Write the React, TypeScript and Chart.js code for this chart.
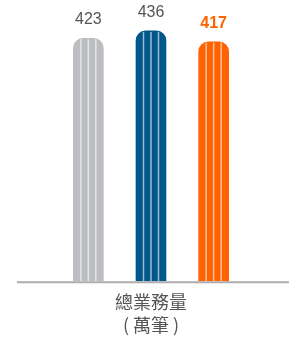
import React, { useEffect, useRef } from "react";
import { Chart, registerables } from "chart.js";

Chart.register(...registerables);

const categories = ["A", "B", "C"];
const values = [423, 436, 417];
const barColors = ["#bcbdc0", "#00578a", "#ff6200"];
const labelColors = ["#555555", "#555555", "#ff6200"];
const labelBold = [false, false, true];
const axisTitle = ["總業務量", "( 萬筆 )"];

const stripePlugin = {
  id: "stripes",
  afterDatasetsDraw(chart: any) {
    const ctx = chart.ctx;
    const meta = chart.getDatasetMeta(0);
    ctx.save();
    meta.data.forEach((bar: any, i: number) => {
      const p = bar.getProps(["x", "y", "base", "width"], true);
      const left = p.x - p.width / 2;
      ctx.strokeStyle = "rgba(255,255,255,0.6)";
      ctx.lineWidth = 1.5;
      for (let k = 1; k < 4; k++) {
        const xx = left + (p.width * k) / 4;
        ctx.beginPath();
        ctx.moveTo(xx, p.y + 1);
        ctx.lineTo(xx, p.base);
        ctx.stroke();
      }
      ctx.fillStyle = labelColors[i];
      ctx.font = `${labelBold[i] ? "bold " : ""}16px "Liberation Sans", Arial, sans-serif`;
      ctx.textAlign = "center";
      ctx.textBaseline = "alphabetic";
      ctx.fillText(String(values[i]), p.x, p.y - 14);
    });
    const y = chart.chartArea.bottom + 1;
    ctx.strokeStyle = "#adadad";
    ctx.lineWidth = 2;
    ctx.beginPath();
    ctx.moveTo(17, y);
    ctx.lineTo(chart.width, y);
    ctx.stroke();
    ctx.restore();
  },
};

export default function App() {
  const ref = useRef<HTMLCanvasElement>(null);
  useEffect(() => {
    if (!ref.current) return;
    const chart = new Chart(ref.current, {
      type: "bar",
      data: {
        labels: categories,
        datasets: [
          {
            data: values,
            backgroundColor: barColors,
            borderRadius: { topLeft: 10, topRight: 10, bottomLeft: 0, bottomRight: 0 },
            borderSkipped: false,
            barThickness: 30,
          },
        ],
      },
      options: {
        responsive: false,
        animation: false,
        layout: { padding: { left: 57, right: 44, top: 20, bottom: 4 } },
        plugins: { legend: { display: false }, tooltip: { enabled: false } },
        scales: {
          x: {
            grid: { display: false },
            border: { display: false },
            ticks: { display: false },
            title: {
              display: true,
              text: axisTitle,
              color: "#555555",
              font: { size: 18, family: '"Noto Sans CJK TC", sans-serif', lineHeight: 1.3 },
              padding: { top: 1, bottom: 0 },
            },
          },
          y: { display: false, min: 0, max: 455 },
        },
      },
      plugins: [stripePlugin],
    });
    return () => chart.destroy();
  }, []);
  return (
    <div style={{ position: "fixed", left: 0, top: 0, width: 289, height: 341, background: "#fff" }}>
      <canvas ref={ref} width={289} height={341} />
    </div>
  );
}
